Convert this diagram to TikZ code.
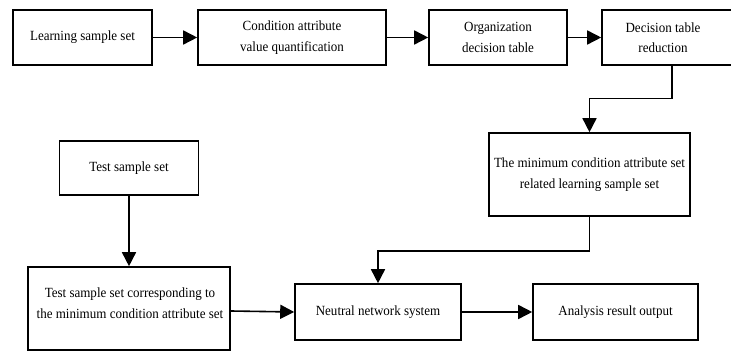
\documentclass[tikz,border=0pt]{standalone}
\usepackage{fontspec}
\setmainfont{Liberation Serif}[FakeStretch=0.93]
\usetikzlibrary{arrows.meta}
\begin{document}
\begin{tikzpicture}[x=1pt,y=-1pt,
  box/.style={draw=black,line width=1.6pt,fill=white,inner sep=0pt,align=center,
    font=\fontsize{14}{20.5}\selectfont},
  txt/.style={inner sep=0pt,align=center,font=\fontsize{14}{20.5}\selectfont},
  arr/.style={draw=black,line width=1.6pt,-{Triangle[length=14pt,width=14pt]}}]
\useasboundingbox (0,0) rectangle (731,352);
% top row
\node[box,minimum width=139pt,minimum height=55pt] (b1) at (82.5,37.5) {Learning sample set};
\node[box,minimum width=188pt,minimum height=55pt] (b2) at (292,37.5) {Condition attribute\\value quantification};
\node[box,minimum width=138pt,minimum height=55pt] (b3) at (498,37.5) {Organization\\decision table};
\node[box,minimum width=133pt,minimum height=55pt] (b4) at (668.5,37.5) {};
\node[txt] (t4) at (663,37.5) {Decision table\\reduction};
% middle
\node[box,minimum width=201pt,minimum height=83pt] (b5) at (589.5,174.5) {The minimum condition attribute set\\related learning sample set};
\node[box,minimum width=139pt,minimum height=54pt] (ts) at (129,168) {Test sample set};
% bottom row
\node[box,minimum width=202pt,minimum height=83pt] (tc) at (129,308.5) {};
\node[txt] (ttc) at (130,303) {Test sample set corresponding to\\the minimum condition attribute set};
\node[box,minimum width=166pt,minimum height=56pt] (nn) at (378,312) {Neutral network system};
\node[box,minimum width=165pt,minimum height=56pt] (ar) at (615.5,312) {Analysis result output};
% connector helpers
\coordinate (c1) at (672,65);
\coordinate (c2) at (672,98.5);
\coordinate (c3) at (589.5,98.5);
\coordinate (c4) at (589.5,251);
\coordinate (c5) at (378,251);
% connectors
\draw[arr] (b1) -- (b2);
\draw[arr] (b2) -- (b3);
\draw[arr] (b3) -- (b4);
\draw[arr] (c1) -- (c2) -- (c3) -- (b5.north);
\draw[arr] (b5.south) -- (c4) -- (c5) -- (nn.north);
\draw[arr] (ts.south) -- (tc.north);
\draw[arr] ([yshift=-2.5pt]tc.east) -- (nn.west);
\draw[arr] (nn) -- (ar);
\end{tikzpicture}
\end{document}
